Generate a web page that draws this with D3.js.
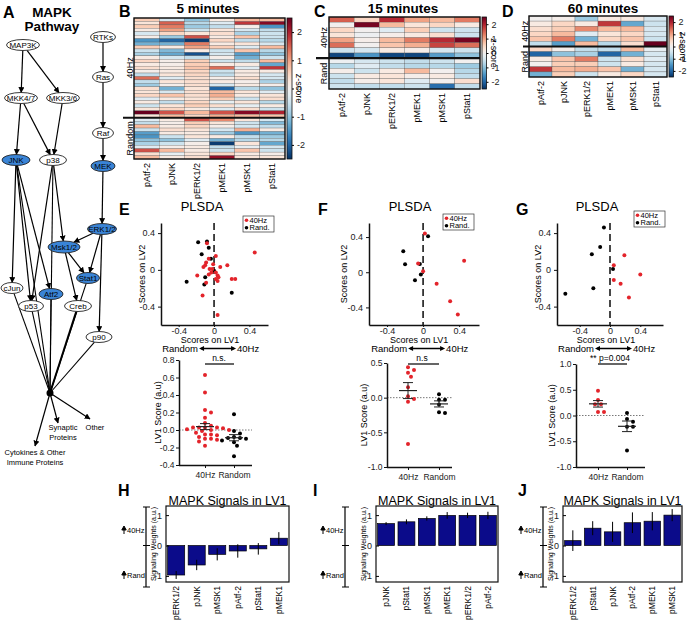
<!DOCTYPE html>
<html><head><meta charset="utf-8">
<script src="https://cdn.jsdelivr.net/npm/d3@7"></script>
<style>body{margin:0;background:#fff}svg{font-family:"Liberation Sans",Arial,sans-serif}</style>
</head><body><svg id="c" width="688" height="620"></svg>
<script>
// ---------------- DATA ----------------
const columns = ["pAtf-2","pJNK","pERK1/2","pMEK1","pMSK1","pStat1"];
const z5_40Hz = [
[0.6,-0.4,-1.0,0.2,0.8,0.8],[0.3,1.5,-0.7,-0.3,1.8,2.3],[0.6,1.3,-0.9,-0.6,0.1,-1.5],[0.2,1.0,-0.5,0.3,-0.4,-0.6],
[-0.4,0.5,0.3,0.4,-0.8,-0.5],[0.1,-0.9,1.6,0.2,0.7,-0.5],[-1.5,-2.0,-2.4,0.5,-0.6,-0.7],[-1.2,-1.2,1.3,0.2,0.3,-0.4],
[0.6,0.2,1.0,0.6,-0.3,0.8],[-0.5,-1.1,0.2,-0.5,0.7,-0.7],[-0.8,-1.3,-2.2,-0.4,-1.4,-1.0],[0.2,-0.4,-0.6,0.1,-1.2,-0.5],
[0.5,0.1,0.6,-0.5,-0.6,0.8],[0.2,0.1,0.6,0.2,0.2,-1.3],[0.4,0.2,0.7,1.4,-0.3,1.8],[0.1,0.2,0.5,-0.5,0.2,0.2],
[-0.6,0.3,0.5,-0.6,0.2,-0.4],[1.4,-0.3,0.4,0.1,0.4,-0.4],[-0.6,0.3,0.4,0.2,0.1,-0.8],[-0.9,0.1,0.4,-0.4,0.2,0.1],
[0.4,-1.2,0.3,-2.0,-0.7,-1.0],[0.3,-0.4,0.4,0.8,0.3,-0.3],[0.5,0.7,0.4,0.9,0.2,0.3],[-0.3,0.2,0.3,0.6,-0.5,0.4],
[0.2,-0.6,0.5,-0.2,0.3,-0.7],[-0.5,0.3,0.6,0.4,-0.2,0.2],[0.3,0.5,0.2,-0.3,0.4,-0.5],[2.5,1.6,0.8,1.6,2.3,2.0],
[0.3,0.8,0.5,0.9,0.8,0.7]];
const z5_Random = [
[-0.3,0.2,1.6,1.2,0.3,-0.4],[-0.6,0.1,0.6,0.3,-0.5,-1.1],[0.8,0.2,0.5,0.1,-0.4,-0.6],[-0.5,0.4,0.3,-0.4,0.9,0.2],
[-1.4,0.2,0.2,-0.9,-1.5,-1.2],[-1.5,-0.5,0.3,0.2,-0.6,-0.9],[-1.0,-1.0,-0.3,-1.2,-0.7,-0.7],[-0.8,-0.5,0.1,-2.4,0.3,-1.3],
[-0.3,0.1,0.2,-0.6,-0.2,-0.4],[1.6,0.8,0.2,-0.5,0.7,-0.5],[0.4,-0.2,0.3,0.5,0.2,0.1],[0.8,0.2,0.4,2.2,0.3,0.3]];
const z15_40Hz = [
[1.5,0.5,1.9,1.0,0.8,1.3],[0.0,2.4,0.8,0.3,0.5,0.2],[0.5,0.0,-0.3,0.6,-0.5,-0.5],[0.3,-0.1,0.1,0.2,0.4,-0.5],
[1.0,0.1,0.8,1.3,1.9,2.4],[1.4,0.0,0.7,0.9,1.7,1.4],[-0.5,-0.4,0.2,0.1,-0.4,-0.5],[-2.3,-1.5,-2.3,-2.3,-1.4,-1.0]];
const z15_Random = [
[-0.1,-0.4,-0.5,-0.6,-0.5,0.0],[-0.7,-0.3,-0.6,-0.7,-0.7,-0.9],[0.1,-0.5,0.2,0.8,0.0,-0.7],
[-0.5,0.2,0.3,0.1,0.2,-0.6],[-0.6,0.1,0.3,-0.3,0.0,0.4],[-0.5,-0.6,-0.6,-0.5,-1.9,-0.6]];
const z60_40Hz = [
[0.0,0.1,-0.9,0.2,0.2,-0.4],[0.2,0.5,0.2,1.8,-1.3,-0.5],[0.4,0.6,1.2,0.8,0.8,-0.4],
[0.5,0.8,-0.3,0.3,0.5,-0.4],[0.7,1.3,-1.2,0.5,0.7,-0.5],[-0.6,-1.4,0.8,-0.7,0.4,2.5]];
const z60_Random = [
[0.5,0.1,-0.6,-0.6,0.8,-0.2],[-2.0,-1.0,-0.8,-2.0,-1.2,-0.4],[0.2,0.7,1.3,-0.5,0.4,-0.3],
[0.0,0.6,0.6,-0.5,0.2,-0.4],[1.8,0.8,0.9,0.7,-1.2,-0.4],[-1.2,0.6,-0.5,0.2,0.5,-0.4]];
const zTicks = [-2,-1,0,1,2];

const plsdaE_40Hz = [[-0.08,0.29],[0.46,0.19],[0.02,0.15],[-0.06,0.12],[-0.09,0.08],[-0.10,0.05],[-0.01,0.06],[-0.12,0.03],[0.07,0.03],[0.15,0.05],[-0.05,0.01],[-0.02,0.01],[-0.06,-0.05],[-0.19,-0.06],[0.02,-0.03],[0.04,-0.06],[0.05,-0.08],[0.04,-0.12],[-0.09,-0.14],[0.20,-0.10],[0.24,-0.10],[-0.13,-0.28],[0.04,-0.49],[0.02,-0.10],[-0.03,-0.03]];
const plsdaE_Random = [[-0.18,0.30],[-0.08,0.31],[-0.06,0.24],[-0.14,0.17],[-0.035,0.12],[0.0,-0.01],[-0.10,-0.08],[-0.31,-0.13],[-0.11,-0.16],[0.20,-0.25]];
const plsdaF_40Hz = [[0.02,0.44],[0.455,0.13],[-0.055,0.10],[0.0,0.01],[0.15,-0.13],[0.30,-0.33],[0.385,-0.48]];
const plsdaF_Random = [[0.055,0.41],[-0.22,0.24],[-0.20,0.09],[-0.036,0.095],[-0.025,-0.027],[-0.09,-0.09]];
const plsdaG_40Hz = [[0.19,0.16],[0.05,0.05],[0.40,-0.05],[0.05,-0.11],[0.14,-0.15],[0.25,-0.30]];
const plsdaG_Random = [[-0.08,0.46],[-0.13,0.25],[-0.24,0.17],[0.04,0.01],[-0.22,-0.20],[-0.59,-0.26]];
const plsdaTicks = [-0.4,0,0.4];

const lv1E_40Hz = [0.63,0.43,0.23,0.20,0.14,0.08,0.05,0.03,0.03,0.03,0.03,0.02,0.01,0.0,0.0,-0.01,-0.03,-0.05,-0.05,-0.06,-0.08,-0.10,-0.10,-0.11,-0.13,-0.18];
const lv1E_Random = [0.18,-0.01,-0.04,-0.08,-0.09,-0.09,-0.10,-0.12,-0.14,-0.18,-0.30];
const lv1F_40Hz = [0.44,0.40,0.36,0.30,0.15,0.02,-0.02,-0.06,-0.67];
const lv1F_Random = [0.05,-0.03,-0.03,-0.10,-0.21,-0.22];
const lv1G_40Hz = [0.48,0.30,0.22,0.22,0.07,0.07];
const lv1G_Random = [0.05,-0.07,-0.12,-0.22,-0.22,-0.68];
const groups = ["40Hz","Random"];

const barsH_labels = ["pERK1/2","pJNK","pMSK1","pAtf-2","pStat1","pMEK1"];
const barsH_values = [-0.97,-0.64,-0.29,-0.18,-0.11,0.24];
const barsH_errors = [0.13,0.17,0.2,0.22,0.19,0.2];
const barsI_labels = ["pJNK","pStat1","pMSK1","pMEK1","pERK1/2","pAtf-2"];
const barsI_values = [0.72,0.78,0.89,0.99,0.99,0.99];
const barsI_errors = [0.05,0.08,0.07,0.11,0.09,0.12];
const barsJ_labels = ["pERK1/2","pStat1","pJNK","pAtf-2","pMEK1","pMSK1"];
const barsJ_values = [0.16,0.57,0.45,0.75,0.8,1.0];
const barsJ_errors = [0.34,0.23,0.33,0.34,0.3,0.2];
const barTicks = [-1,0,1];

const pathwayNodes = ["MAP3K","MKK4/7","MKK3/6","JNK","p38","RTKs","Ras","Raf","MEK","ERK1/2","Msk1/2","Stat1","cJun","Atf2","p53","Creb","p90"];
const measured = ["JNK","MEK","ERK1/2","Msk1/2","Stat1","Atf2"];
const pathwayEdges = [["MAP3K","MKK4/7"],["MAP3K","MKK3/6"],["MKK4/7","JNK"],["MKK4/7","p38"],["MKK3/6","p38"],
 ["RTKs","Ras"],["Ras","Raf"],["Raf","MEK"],["MEK","ERK1/2"],["ERK1/2","Msk1/2"],["ERK1/2","Stat1"],["ERK1/2","p90"],
 ["p38","Msk1/2"],["Msk1/2","Stat1"],["Msk1/2","Creb"],["JNK","cJun"],["JNK","Atf2"],["JNK","p53"],["p38","p53"]];
const hubInputs = ["cJun","p53","Atf2","Creb","Stat1","p90","JNK","p38"];
const outputs = [["Cytokines & Other","Immune Proteins"],["Synaptic","Proteins"],["Other"]];

// ---------------- LAYOUT ----------------
const svg = d3.select("#c");
const RED = "#e3242b";
const color = d3.scaleSequential(d3.interpolateRdBu).domain([2.5,-2.5]);
const fmtNum = d => (d===0?"0":String(d));
function txt(g,x,y,s,size,opt={}){
  const t=g.append("text").attr("x",x).attr("y",y).attr("font-size",size).text(s);
  if(opt.anchor) t.attr("text-anchor",opt.anchor);
  if(opt.bold) t.attr("font-weight","bold");
  if(opt.rot!==undefined) t.attr("transform",`rotate(${opt.rot},${x},${y})`);
  if(opt.fill) t.attr("fill",opt.fill);
  if(opt.family) t.attr("font-family",opt.family);
  return t;
}
function styleAxis(a,w){a.select(".domain").attr("stroke","#111").attr("stroke-width",w);a.selectAll(".tick line").attr("stroke","#111");a.selectAll("text").attr("fill","#222");}

// panel letters
[["A",3,18],["B",119,17],["C",314,17],["D",502,17],["E",119,215],["F",318,215],["G",516,215],["H",118,496],["I",313,496],["J",518,496]]
 .forEach(([s,x,y])=>txt(svg,x,y,s,16,{bold:true}));

// ---------- Panel A: pathway ----------
(function(){
  const g=svg.append("g");
  txt(g,52,17,"MAPK",13.5,{bold:true,anchor:"middle"});
  txt(g,52,30.5,"Pathway",13.5,{bold:true,anchor:"middle"});
  const pos={"MAP3K":[23,45,16.5,5.5],"MKK4/7":[21,98,16.5,5.5],"MKK3/6":[63,98,16.5,5.5],"JNK":[16,160,14,5.5],"p38":[53,160,13.5,5.5],
    "RTKs":[103,37,12.5,5.5],"Ras":[103,77,10.5,5.5],"Raf":[103,133,10.5,5.5],"MEK":[103,166,12,5.5],"ERK1/2":[102,229,14.5,5.5],
    "Msk1/2":[64,247,16,6],"Stat1":[88,278,11.5,5.5],"cJun":[12,288,11,5.5],"Atf2":[51,294,12,5.5],"p53":[31,306,12.5,5.5],"Creb":[78,306,13.5,5.5],"p90":[99,337,13,5.5]};
  const hub=[50,393];
  const defs=svg.append("defs");
  defs.append("marker").attr("id","ah").attr("viewBox","0 0 10 10").attr("refX",9).attr("refY",5).attr("markerWidth",5).attr("markerHeight",5).attr("orient","auto")
    .append("path").attr("d","M0,0L10,5L0,10z").attr("fill","#000");
  function edgePt(n,dx,dy){const [cx,cy,rx,ry]=pos[n];const t=1/Math.sqrt((dx/rx)**2+(dy/ry)**2);return [cx+dx*t,cy+dy*t];}
  pathwayEdges.forEach(([a,b])=>{
    const dx=pos[b][0]-pos[a][0], dy=pos[b][1]-pos[a][1];
    const p=edgePt(a,dx,dy), q=edgePt(b,-dx,-dy);
    g.append("line").attr("x1",p[0]).attr("y1",p[1]).attr("x2",q[0]).attr("y2",q[1]).attr("stroke","#000").attr("stroke-width",1.2).attr("marker-end","url(#ah)");
  });
  hubInputs.forEach(a=>{
    const dx=hub[0]-pos[a][0], dy=hub[1]-pos[a][1];
    const p=edgePt(a,dx,dy);
    g.append("line").attr("x1",p[0]).attr("y1",p[1]).attr("x2",hub[0]).attr("y2",hub[1]).attr("stroke","#000").attr("stroke-width",a==="Creb"?2:1.1);
  });
  g.append("circle").attr("cx",hub[0]).attr("cy",hub[1]).attr("r",3.5).attr("fill","#000");
  [[35,446],[58,423],[90,419]].forEach(([x,y])=>g.append("line").attr("x1",hub[0]).attr("y1",hub[1]).attr("x2",x).attr("y2",y).attr("stroke","#000").attr("stroke-width",1.2).attr("marker-end","url(#ah)"));
  const nf="'Liberation Sans Narrow','Liberation Sans',sans-serif";
  pathwayNodes.forEach(n=>{
    const [cx,cy,rx,ry]=pos[n]; const m=measured.includes(n);
    g.append("ellipse").attr("cx",cx).attr("cy",cy).attr("rx",rx).attr("ry",ry).attr("fill",m?"#3a84d6":"#fff").attr("stroke","#222").attr("stroke-width",0.9);
    txt(g,cx,cy+2.8,n,8,{anchor:"middle",family:nf});
  });
  txt(g,35,455,outputs[0][0],7.5,{anchor:"middle",family:nf});txt(g,35,465,outputs[0][1],7.5,{anchor:"middle",family:nf});
  txt(g,63,430,outputs[1][0],7.5,{anchor:"middle",family:nf});txt(g,63,440,outputs[1][1],7.5,{anchor:"middle",family:nf});
  txt(g,95,430,outputs[2][0],7.5,{anchor:"middle",family:nf});
})();

// ---------- Heatmaps ----------
function heatmap(o){
  const g=svg.append("g");
  const rows=o.d40.concat(o.dR);
  const x=d3.scaleBand().domain(columns).range([o.x0,o.x1]);
  const y=d3.scaleBand().domain(d3.range(rows.length)).range([o.y0,o.y1]);
  rows.forEach((r,i)=>{
    g.append("g").selectAll("rect").data(r).join("rect")
      .attr("x",(d,j)=>x(columns[j])).attr("y",y(i)).attr("width",x.bandwidth()).attr("height",y.bandwidth())
      .attr("fill",d=>color(d)).attr("stroke","#555").attr("stroke-width",0.3);
  });
  g.append("rect").attr("x",o.x0).attr("y",o.y0).attr("width",o.x1-o.x0).attr("height",o.y1-o.y0).attr("fill","none").attr("stroke","#111").attr("stroke-width",1.4);
  const sy=y(o.d40.length);
  g.append("line").attr("x1",o.x0-o.sepExt).attr("x2",o.x1).attr("y1",sy).attr("y2",sy).attr("stroke","#111").attr("stroke-width",2.2);
  txt(g,o.lx,(o.y0+sy)/2,o.l40,9,{anchor:"middle",rot:-90});
  txt(g,o.lx,(sy+o.y1)/2,o.lR,9,{anchor:"middle",rot:-90});
  columns.forEach(c=>txt(g,x(c)+x.bandwidth()/2+3,o.y1+4,c,9,{anchor:"end",rot:-90}));
  txt(g,o.tx,13,o.title,13.5,{bold:true,anchor:"middle"});
  // colorbar
  const cy=d3.scaleLinear().domain([-2.5,2.5]).range([o.y1,o.y0]);
  const id="grad"+o.title.replace(/\s/g,"");
  const gr=svg.append("defs").append("linearGradient").attr("id",id).attr("x1",0).attr("x2",0).attr("y1",1).attr("y2",0);
  d3.range(0,1.0001,0.05).forEach(t=>gr.append("stop").attr("offset",t).attr("stop-color",color(-2.5+5*t)));
  g.append("rect").attr("x",o.cbX).attr("y",o.y0).attr("width",o.cbW).attr("height",o.y1-o.y0).attr("fill",`url(#${id})`).attr("stroke","#111").attr("stroke-width",0.8);
  const ax=g.append("g").attr("transform",`translate(${o.cbX+o.cbW},0)`).call(d3.axisRight(cy).tickValues(zTicks).tickSize(2).tickFormat(fmtNum));
  ax.select(".domain").remove(); ax.selectAll("text").attr("font-size",9).attr("fill","#222");
  txt(g,o.zx,(o.y0+o.y1)/2,"z-score",9,{anchor:"middle",rot:90});
}
heatmap({d40:z5_40Hz,dR:z5_Random,x0:134,x1:285,y0:18,y1:159,sepExt:11,lx:133,l40:"40Hz",lR:"Random",title:"5 minutes",tx:208,cbX:287,cbW:5,zx:296});
heatmap({d40:z15_40Hz,dR:z15_Random,x0:329,x1:480,y0:17,y1:89,sepExt:13,lx:327,l40:"40Hz",lR:"Rand",title:"15 minutes",tx:403,cbX:482,cbW:4.5,zx:491});
heatmap({d40:z60_40Hz,dR:z60_Random,x0:529,x1:667,y0:16,y1:77,sepExt:6,lx:528,l40:"40Hz",lR:"Rand",title:"60 minutes",tx:603,cbX:669,cbW:4.5,zx:680});

// ---------- PLSDA scatter ----------
function plsda(o){
  const g=svg.append("g");
  const x=d3.scaleLinear().domain(o.xd).range([o.x0,o.x1]);
  const y=d3.scaleLinear().domain(o.yd).range([o.y1,o.y0]);
  txt(g,o.tx,211,"PLSDA",13,{anchor:"middle"});
  g.append("line").attr("x1",x(0)).attr("x2",x(0)).attr("y1",o.y0).attr("y2",o.y1).attr("stroke","#333").attr("stroke-width",1.8).attr("stroke-dasharray","7,4");
  const ax=g.append("g").attr("transform",`translate(0,${o.y1})`).call(d3.axisBottom(x).tickValues(plsdaTicks).tickSize(2).tickPadding(1).tickSizeOuter(0).tickFormat(fmtNum));
  styleAxis(ax,1.5); ax.selectAll("text").attr("font-size",9).attr("dy","0.62em");
  const ay=g.append("g").attr("transform",`translate(${o.x0},0)`).call(d3.axisLeft(y).tickValues(plsdaTicks).tickSize(3).tickSizeOuter(0).tickFormat(fmtNum));
  styleAxis(ay,1.5); ay.selectAll("text").attr("font-size",9);
  g.append("g").selectAll("circle").data(o.black).join("circle").attr("cx",d=>x(d[0])).attr("cy",d=>y(d[1])).attr("r",2).attr("fill","#000");
  g.append("g").selectAll("circle").data(o.red).join("circle").attr("cx",d=>x(d[0])).attr("cy",d=>y(d[1])).attr("r",2).attr("fill",RED);
  txt(g,o.ylx,(o.y0+o.y1)/2,"Scores on LV2",9,{anchor:"middle",rot:-90});
  txt(g,x(0)-4,343,"Scores on LV1",9,{anchor:"middle"});
  txt(g,x(0)-16,352,"Random",9.5,{anchor:"end"});
  txt(g,x(0)+23,352,"40Hz",9.5,{anchor:"start"});
  g.append("line").attr("x1",x(0)-13).attr("x2",x(0)+20).attr("y1",348.5).attr("y2",348.5).attr("stroke","#000").attr("stroke-width",1.6);
  g.append("path").attr("d",`M${x(0)-15},348.5l5,-2.5v5z M${x(0)+22},348.5l-5,-2.5v5z`).attr("fill","#000");
  const [lx,ly]=o.leg;
  g.append("rect").attr("x",lx).attr("y",ly).attr("width",31).attr("height",16).attr("fill","#fff").attr("stroke","#333").attr("stroke-width",0.7);
  g.append("circle").attr("cx",lx+3.5).attr("cy",ly+4.2).attr("r",1.8).attr("fill",RED);
  g.append("circle").attr("cx",lx+3.5).attr("cy",ly+11.8).attr("r",1.8).attr("fill","#000");
  txt(g,lx+6.5,ly+6.8,"40Hz",7.5); txt(g,lx+6.5,ly+14.4,"Rand.",7.5);
}
plsda({x0:161,x1:268,y0:223,y1:325,xd:[-0.6,0.61],yd:[-0.6,0.51],red:plsdaE_40Hz,black:plsdaE_Random,tx:202,ylx:145,leg:[243,216]});
plsda({x0:369,x1:479,y0:223,y1:325,xd:[-0.6,0.62],yd:[-0.6,0.56],red:plsdaF_40Hz,black:plsdaF_Random,tx:410,ylx:347,leg:[443,214]});
plsda({x0:557,x1:663,y0:223,y1:325,xd:[-0.7,0.7],yd:[-0.6,0.51],red:plsdaG_40Hz,black:plsdaG_Random,tx:597,ylx:541,leg:[634,211]});

// ---------- LV1 score dot plots ----------
function swarm(vals,y,r){
  const placed=[];
  return vals.map(v=>{
    const yy=y(v);
    for(let k=0;k<40;k++){
      const off=(k%2?1:-1)*Math.ceil(k/2)*(r*1.5);
      if(placed.every(p=>Math.hypot(p[0]-off,p[1]-yy)>=2*r+0.2)){placed.push([off,yy]);return [off,yy];}
    }
    return [0,yy];
  });
}
function lv1(o){
  const g=svg.append("g");
  const y=d3.scaleLinear().domain(o.yd).range([o.y1,o.y0]);
  const x=d3.scalePoint().domain(groups).range([o.c0,o.c1]);
  g.append("line").attr("x1",o.ax).attr("x2",o.xe).attr("y1",y(0)).attr("y2",y(0)).attr("stroke","#555").attr("stroke-width",0.8).attr("stroke-dasharray","1.5,1.5");
  const ay=g.append("g").attr("transform",`translate(${o.ax},0)`).call(d3.axisLeft(y).tickValues(o.ticks).tickSize(3).tickPadding(1.5).tickSizeOuter(0).tickFormat(d3.format(".1f")));
  styleAxis(ay,1.5); ay.selectAll("text").attr("font-size",8.5).text(function(){return this.textContent.replace("−","-");});
  const axb=g.append("g").attr("transform",`translate(0,${o.y1})`).call(d3.axisBottom(x).tickSize(3).tickSizeOuter(0));
  axb.select(".domain").attr("d",`M${o.ax},0.5H${o.xe}`);
  styleAxis(axb,1.5); axb.selectAll("text").attr("font-size",8.5).attr("dy","0.8em");
  [[o.red,RED,"40Hz"],[o.black,"#000","Random"]].forEach(([vals,c,k])=>{
    const pts=swarm(vals,y,2);
    g.append("g").selectAll("circle").data(pts).join("circle").attr("cx",d=>x(k)+d[0]).attr("cy",d=>d[1]).attr("r",2).attr("fill",c);
    const m=d3.mean(vals), se=d3.deviation(vals)/Math.sqrt(vals.length);
    const cx=x(k);
    g.append("line").attr("x1",cx-9).attr("x2",cx+9).attr("y1",y(m)).attr("y2",y(m)).attr("stroke","#222").attr("stroke-width",1.2);
    g.append("path").attr("d",`M${cx},${y(m+se)}V${y(m-se)}M${cx-5},${y(m+se)}H${cx+5}M${cx-5},${y(m-se)}H${cx+5}`).attr("stroke","#222").attr("stroke-width",1).attr("fill","none");
  });
  txt(g,o.ylx,(o.y0+o.y1)/2,"LV1 Score (a.u)",9,{anchor:"middle",rot:-90});
  g.append("line").attr("x1",x("40Hz")).attr("x2",x("Random")).attr("y1",364).attr("y2",364).attr("stroke","#000").attr("stroke-width",1.2);
  txt(g,o.sx,361,o.sig,8.5,{anchor:"middle"});
}
lv1({ax:179,xe:252,y0:360,y1:465,yd:[-0.4,0.8],ticks:[-0.4,-0.2,0,0.2,0.4,0.6,0.8],c0:205,c1:234,red:lv1E_40Hz,black:lv1E_Random,ylx:161,sig:"n.s.",sx:219});
lv1({ax:387,xe:452,y0:363,y1:467,yd:[-1,0.5],ticks:[-1,-0.5,0,0.5],c0:408,c1:439,red:lv1F_40Hz,black:lv1F_Random,ylx:367,sig:"n.s",sx:422});
lv1({ax:576,xe:645,y0:364,y1:467,yd:[-1,1],ticks:[-1,-0.5,0,0.5,1],c0:598,c1:627,red:lv1G_40Hz,black:lv1G_Random,ylx:555,sig:"** p=0.004",sx:610});

// ---------- Bar charts ----------
function upArrow(g,x,y){g.append("path").attr("d",`M${x},${y+3}V${y-2}M${x-2.2},${y-1}L${x},${y-5}L${x+2.2},${y-1}z`).attr("stroke","#000").attr("stroke-width",1).attr("fill","#000");}
function bars(o){
  const g=svg.append("g");
  const x=d3.scaleBand().domain(o.labels).range([o.x0,o.x1]).paddingInner(0.17).paddingOuter(0.08);
  const y=d3.scaleLinear().domain([-1.2,1.3]).range([582,506]);
  txt(g,(o.x0+o.x1)/2,505,"MAPK Signals in LV1",12.5,{anchor:"middle"});
  g.selectAll("rect.b").data(o.values).join("rect").attr("x",(d,i)=>x(o.labels[i])).attr("width",x.bandwidth())
    .attr("y",d=>Math.min(y(d),y(0))).attr("height",d=>Math.abs(y(d)-y(0))).attr("fill","#0b0b8a").attr("stroke","#000").attr("stroke-width",0.7);
  g.selectAll("line.e").data(o.values).join("line").attr("x1",(d,i)=>x(o.labels[i])+x.bandwidth()/2).attr("x2",(d,i)=>x(o.labels[i])+x.bandwidth()/2)
    .attr("y1",(d,i)=>y(d+o.errors[i])).attr("y2",(d,i)=>y(d-o.errors[i])).attr("stroke","#000").attr("stroke-width",1);
  g.append("rect").attr("x",o.x0).attr("y",506).attr("width",o.x1-o.x0).attr("height",76).attr("fill","none").attr("stroke","#111").attr("stroke-width",1.2);
  const ay=g.append("g").attr("transform",`translate(${o.x0},0)`).call(d3.axisLeft(y).tickValues(barTicks).tickSize(-3).tickPadding(4).tickFormat(fmtNum));
  ay.select(".domain").remove(); ay.selectAll("text").attr("font-size",9).attr("fill","#222");
  o.labels.forEach(l=>txt(g,x(l)+x.bandwidth()/2+3,586,l,8.5,{anchor:"end",rot:-90}));
  txt(g,o.x0-10,544,"Signaling Weights (a.u.)",7,{anchor:"middle",rot:-90});
  const bx=o.bx;
  g.append("path").attr("d",`M${bx},507V587M${bx-3},507H${bx+4}M${bx-3},${y(0)}H${bx+4}M${bx-3},587H${bx+4}`).attr("stroke","#000").attr("stroke-width",1.2).attr("fill","none");
  upArrow(g,bx-22,531); txt(g,bx-19,533,"40Hz",7.5);
  upArrow(g,bx-22,576); txt(g,bx-19,578,"Rand",7.5);
}
bars({labels:barsH_labels,values:barsH_values,errors:barsH_errors,x0:166,x1:289,bx:146});
bars({labels:barsI_labels,values:barsI_values,errors:barsI_errors,x0:376,x1:498,bx:345});
bars({labels:barsJ_labels,values:barsJ_values,errors:barsJ_errors,x0:563,x1:682,bx:543});
</script></body></html>
